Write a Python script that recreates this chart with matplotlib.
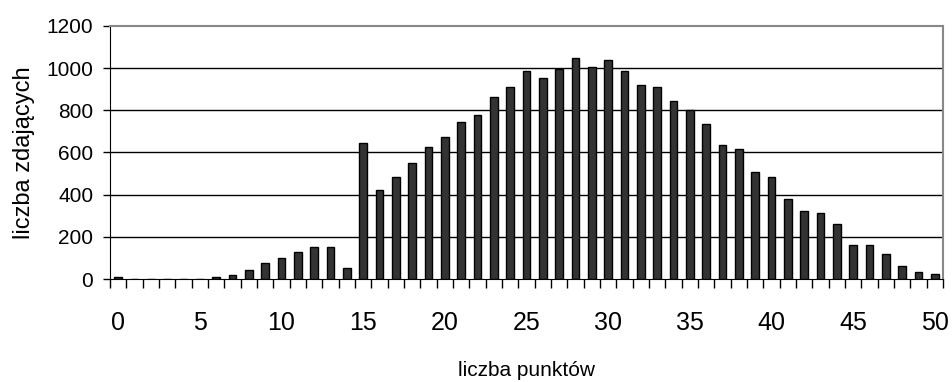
import numpy as np
import matplotlib
matplotlib.use("Agg")
import matplotlib.pyplot as plt

plt.rcParams['font.family'] = ['Liberation Sans', 'DejaVu Sans']

# liczba punktów 0..50
punkty = list(range(51))
zdajacy = [10, 0, 0, 0, 0, 0, 10, 20, 43, 74,
           98, 128, 150, 150, 54, 647, 422, 484, 552, 628,
           672, 746, 778, 865, 909, 985, 952, 998, 1048, 1006,
           1039, 985, 919, 909, 844, 800, 735, 637, 615, 509,
           485, 378, 324, 314, 259, 163, 163, 119, 63, 32,
           22]
yticks = [0, 200, 400, 600, 800, 1000, 1200]
xlabels = [0, 5, 10, 15, 20, 25, 30, 35, 40, 45, 50]

fig = plt.figure(figsize=(9.52, 3.82), dpi=100)
ax = fig.add_axes([0.1155, 0.2696, 0.875, 0.6624])

x = np.arange(len(punkty))
ax.bar(x, zdajacy, width=0.48, color='#333333', edgecolor='black', linewidth=1.0, zorder=3)

ax.set_xlim(-0.5, len(punkty) - 0.5)
ax.set_ylim(0, 1200)
ax.set_yticks(yticks)
ax.tick_params(axis='y', labelsize=15, length=5, width=1, direction='out', pad=7)
for y in yticks[1:-1]:
    ax.axhline(y, color='black', linewidth=1, zorder=1)

# znaczniki między kategoriami, etykiety pod środkami słupków
ax.set_xticks(np.arange(-0.5, len(punkty) + 0.5, 1.0))
ax.set_xticklabels([])
ax.tick_params(axis='x', length=6.5, width=1, direction='out', color='black')
ax.set_xticks(xlabels, minor=True)
ax.set_xticklabels([str(v) for v in xlabels], minor=True, fontsize=18)
ax.tick_params(axis='x', which='minor', length=0, pad=23)

for side in ['top', 'right']:
    ax.spines[side].set_color('#888888')
    ax.spines[side].set_linewidth(1.5)
ax.spines['left'].set_color('black')
ax.spines['bottom'].set_color('black')

ax.set_xlabel('liczba punktów', fontsize=15, labelpad=19)
ax.set_ylabel('liczba zdających', fontsize=17, labelpad=8)

fig.savefig('out.png', dpi=100)
